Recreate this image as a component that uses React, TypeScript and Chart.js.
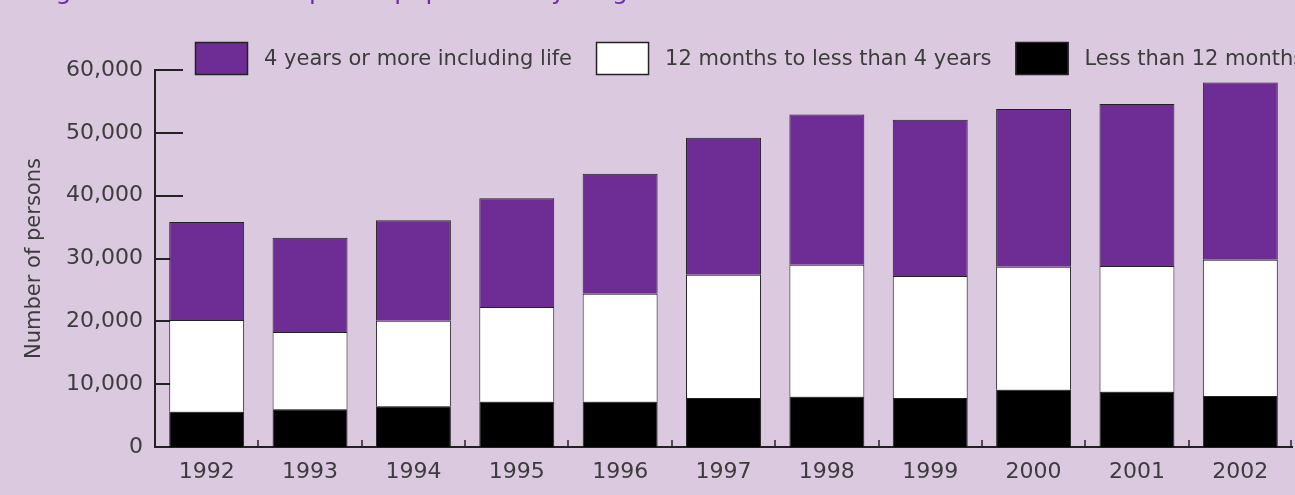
import React, { useEffect, useRef } from "react";
import { Chart, registerables } from "chart.js";

Chart.register(...registerables);

const years = ["1992", "1993", "1994", "1995", "1996", "1997", "1998", "1999", "2000", "2001", "2002"];
const lessThan12Months = [5600, 6000, 6500, 7200, 7200, 7800, 8000, 7800, 9100, 8800, 8100];
const months12To4Years = [14600, 12300, 13600, 15100, 17200, 19600, 21000, 19400, 19600, 20000, 21700];
const fourYearsOrMore = [15600, 15000, 16000, 17300, 19100, 21800, 23900, 24900, 25100, 25800, 28200];
const yTickValues = [0, 10000, 20000, 30000, 40000, 50000, 60000];

const seriesLabels = ["Less than 12 months", "12 months to less than 4 years", "4 years or more including life"];
const titleText = "Figure 9.2 Sentenced prison population by length of sentence";

const BG = "#dbc9e0";
const PURPLE = "#6e2d94";
const TEXT = "#3c3c3c";
const FONT = "'DejaVu Sans', sans-serif";

export default function App() {
  const ref = useRef<HTMLCanvasElement | null>(null);

  useEffect(() => {
    document.body.style.margin = "0";
    document.body.style.background = BG;
    const canvas = ref.current;
    if (!canvas) return;

    const decor = {
      id: "decor",
      beforeDraw(chart: any) {
        const ctx = chart.ctx;
        ctx.save();
        ctx.fillStyle = BG;
        ctx.fillRect(0, 0, chart.width, chart.height);
        // title (mostly clipped at top)
        ctx.fillStyle = "#6c2bb0";
        ctx.font = `25px ${FONT}`;
        ctx.textBaseline = "alphabetic";
        ctx.textAlign = "left";
        ctx.fillText(titleText, 36, -1);
        ctx.restore();
      },
      beforeDatasetsDraw(chart: any) {
        const ctx = chart.ctx;
        const ys = chart.scales.y;
        const xs = chart.scales.x;
        const area = chart.chartArea;
        ctx.save();
        ctx.strokeStyle = "#222";
        ctx.lineWidth = 2;
        // inward y ticks
        ys.ticks.forEach((t: any) => {
          const py = Math.round(ys.getPixelForValue(t.value));
          ctx.beginPath();
          ctx.moveTo(area.left, py);
          ctx.lineTo(area.left + 28, py);
          ctx.stroke();
        });
        // small x ticks between categories
        ctx.lineWidth = 1.5;
        const n = years.length;
        for (let i = 0; i < n; i++) {
          const px = i < n - 1
            ? (xs.getPixelForValue(i) + xs.getPixelForValue(i + 1)) / 2
            : area.right - 1;
          ctx.beginPath();
          ctx.moveTo(Math.round(px), area.bottom);
          ctx.lineTo(Math.round(px), area.bottom - 7);
          ctx.stroke();
        }
        ctx.restore();
      },
      afterDraw(chart: any) {
        const ctx = chart.ctx;
        ctx.save();
        ctx.font = `21px ${FONT}`;
        ctx.textBaseline = "middle";
        ctx.textAlign = "left";
        const items = [...chart.data.datasets].reverse();
        let x = 195;
        const y = 42;
        const bw = 53;
        const bh = 33;
        items.forEach((ds: any) => {
          ctx.fillStyle = ds.backgroundColor;
          ctx.fillRect(x, y, bw, bh);
          ctx.strokeStyle = "#222";
          ctx.lineWidth = 1.5;
          ctx.strokeRect(x + 0.5, y + 0.5, bw - 1, bh - 1);
          x += bw + 16;
          ctx.fillStyle = TEXT;
          ctx.fillText(ds.label, x, y + bh / 2 + 1);
          x += ctx.measureText(ds.label).width + 24;
        });
        ctx.restore();
      },
    };

    const chart = new Chart(canvas, {
      type: "bar",
      data: {
        labels: years,
        datasets: [
          { label: seriesLabels[0], data: lessThan12Months, backgroundColor: "#000000", borderColor: "#222", borderWidth: 1 },
          { label: seriesLabels[1], data: months12To4Years, backgroundColor: "#ffffff", borderColor: "#222", borderWidth: 1 },
          { label: seriesLabels[2], data: fourYearsOrMore, backgroundColor: PURPLE, borderColor: "#222", borderWidth: 1 },
        ],
      },
      options: {
        responsive: false,
        animation: false,
        devicePixelRatio: 1,
        layout: { padding: { top: 70, right: 3, bottom: 0, left: 0 } },
        datasets: { bar: { barPercentage: 0.725, categoryPercentage: 1 } },
        plugins: {
          legend: { display: false },
          tooltip: { enabled: false },
          title: { display: false },
        },
        scales: {
          x: {
            stacked: true,
            grid: { display: false, drawTicks: false },
            border: { display: true, color: "#222", width: 2 },
            ticks: { color: TEXT, font: { family: FONT, size: 22 }, padding: 12, maxRotation: 0 },
            afterFit(scale: any) { scale.height = 48; },
          },
          y: {
            stacked: true,
            min: 0,
            max: 60000,
            afterBuildTicks(scale: any) { scale.ticks = yTickValues.map((v) => ({ value: v })); },
            grid: { display: false, drawTicks: false },
            border: { display: true, color: "#222", width: 2 },
            ticks: {
              color: TEXT,
              font: { family: FONT, size: 22 },
              padding: 12,
              callback: (v: any) => Number(v).toLocaleString("en-US"),
            },
            title: {
              display: true,
              text: "Number of persons",
              color: TEXT,
              font: { family: FONT, size: 21 },
              padding: { top: 22, bottom: 0 },
            },
            afterFit(scale: any) { scale.width = 155; },
          },
        },
      },
      plugins: [decor],
    });
    return () => chart.destroy();
  }, []);

  return <canvas ref={ref} width={1295} height={495} style={{ display: "block" }} />;
}
